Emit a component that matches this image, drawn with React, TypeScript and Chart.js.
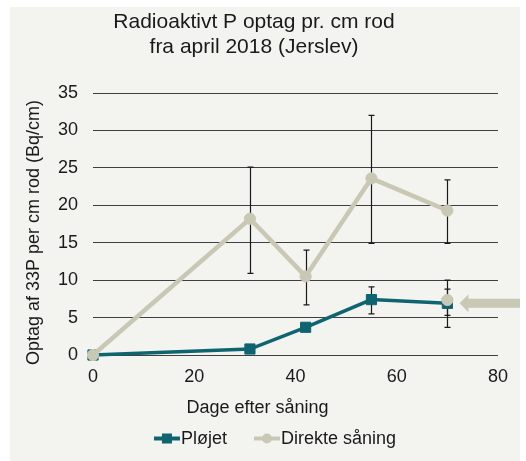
import React, { useEffect, useRef } from "react";
import { Chart, registerables } from "chart.js";

Chart.register(...registerables);

const titleLines = ["Radioaktivt P optag pr. cm rod", "fra april 2018 (Jerslev)"];
const xTitle = "Dage efter såning";
const yTitle = "Optag af 33P per cm rod (Bq/cm)";
const seriesNames = ["Pløjet", "Direkte såning"];

const days = [0, 31, 42, 55, 70];
const ploejet = [0, 0.8, 3.7, 7.4, 6.9];
const ploejetLow = [null, null, null, 5.5, 5.3];
const ploejetHigh = [null, null, null, 9.1, 8.8];
const direkte = [0, 18.2, 10.5, 23.6, 19.3];
const direkteLow = [null, 10.9, 6.7, 14.9, 14.9];
const direkteHigh = [null, 25.1, 14.0, 32.0, 23.4];

// highlighted extra point with arrow
const markedDay = [70];
const markedValue = [7.35];
const markedLow = [3.7];
const markedHigh = [10.0];
const arrowTip = [72.4, 6.9];

const xMin = 0;
const xMax = 80;
const xStep = 20;
const yMin = 0;
const yMax = 35;
const yStep = 5;

const TEAL = "#0e6571";
const GREY = "#c9c8b4";
const BG = "#f3f3ef";
const TEXT = "#1a1a1a";
const FONT = "'Liberation Sans', Arial, sans-serif";

const toPoints = (xs: number[], ys: number[]) => xs.map((x, i) => ({ x, y: ys[i] }));

const errorBarPlugin = {
  id: "errorBars",
  beforeDatasetsDraw(chart: any) {
    const { ctx, scales } = chart;
    const x = scales.x;
    const y = scales.y;
    const groups: [number[], (number | null)[], (number | null)[]][] = [
      [days, ploejetLow, ploejetHigh],
      [days, direkteLow, direkteHigh],
      [markedDay, markedLow, markedHigh],
    ];
    ctx.save();
    ctx.strokeStyle = TEXT;
    ctx.lineWidth = 1.2;
    for (const [xs, lows, highs] of groups) {
      xs.forEach((d, i) => {
        const lo = lows[i];
        const hi = highs[i];
        if (lo == null || hi == null) return;
        const px = Math.round(x.getPixelForValue(d)) + 0.5;
        const top = y.getPixelForValue(hi);
        const bot = y.getPixelForValue(lo);
        ctx.beginPath();
        ctx.moveTo(px, top);
        ctx.lineTo(px, bot);
        ctx.moveTo(px - 3, top);
        ctx.lineTo(px + 3, top);
        ctx.moveTo(px - 3, bot);
        ctx.lineTo(px + 3, bot);
        ctx.stroke();
      });
    }
    ctx.restore();
  },
};

const overlayPlugin = {
  id: "overlay",
  afterDraw(chart: any) {
    const { ctx, scales, width } = chart;
    const x = scales.x;
    const y = scales.y;
    ctx.save();

    // arrow
    const tx = x.getPixelForValue(arrowTip[0]);
    const ty = y.getPixelForValue(arrowTip[1]);
    ctx.fillStyle = GREY;
    ctx.beginPath();
    ctx.moveTo(tx, ty);
    ctx.lineTo(tx + 9, ty - 9);
    ctx.lineTo(tx + 9, ty - 4.5);
    ctx.lineTo(width, ty - 4.5);
    ctx.lineTo(width, ty + 4.5);
    ctx.lineTo(tx + 9, ty + 4.5);
    ctx.lineTo(tx + 9, ty + 9);
    ctx.closePath();
    ctx.fill();

    ctx.fillStyle = TEXT;
    ctx.font = `18px ${FONT}`;
    ctx.textBaseline = "alphabetic";

    // x axis title
    ctx.textAlign = "center";
    ctx.fillText(xTitle, 247.5, 406.3);

    // y axis title
    ctx.save();
    ctx.translate(28.5, 225.5);
    ctx.rotate(-Math.PI / 2);
    ctx.textAlign = "center";
    ctx.fillText(yTitle, 0, 0);
    ctx.restore();

    // legend
    const markerW = 26;
    const gapText = 1;
    const gapItems = 27;
    const colors = [TEAL, GREY];
    const styles = ["rect", "circle"];
    const widths = seriesNames.map((n) => ctx.measureText(n).width);
    const total = widths.reduce((a, w) => a + markerW + gapText + w, 0) + gapItems * (seriesNames.length - 1);
    let cx = 265 - total / 2;
    const ly = 431.5;
    seriesNames.forEach((name, i) => {
      ctx.strokeStyle = colors[i];
      ctx.lineWidth = 4;
      ctx.beginPath();
      ctx.moveTo(cx, ly);
      ctx.lineTo(cx + markerW, ly);
      ctx.stroke();
      ctx.fillStyle = colors[i];
      const mx = cx + markerW / 2;
      if (styles[i] === "rect") {
        ctx.fillRect(mx - 5, ly - 5, 10, 10);
      } else {
        ctx.beginPath();
        ctx.arc(mx, ly, 5, 0, Math.PI * 2);
        ctx.fill();
      }
      ctx.fillStyle = TEXT;
      ctx.textAlign = "left";
      ctx.fillText(name, cx + markerW + gapText, ly + 5.5);
      cx += markerW + gapText + widths[i] + gapItems;
    });

    ctx.restore();
  },
};

export default function App() {
  const canvasRef = useRef<HTMLCanvasElement | null>(null);

  useEffect(() => {
    const canvas = canvasRef.current;
    if (!canvas) return;
    const chart = new Chart(canvas, {
      type: "line",
      data: {
        datasets: [
          {
            label: seriesNames[0],
            data: toPoints(days, ploejet),
            borderColor: TEAL,
            backgroundColor: TEAL,
            borderWidth: 3.5,
            pointStyle: "rect",
            pointRadius: 7.2,
            pointBorderWidth: 1,
            pointBorderColor: TEAL,
            pointBackgroundColor: TEAL,
            tension: 0,
            clip: false as any,
            order: 2,
          },
          {
            label: seriesNames[1],
            data: toPoints(days, direkte),
            borderColor: GREY,
            backgroundColor: GREY,
            borderWidth: 4.5,
            pointStyle: "circle",
            pointRadius: 5.6,
            pointBorderWidth: 1,
            pointBorderColor: GREY,
            pointBackgroundColor: GREY,
            tension: 0,
            clip: false as any,
            order: 1,
          },
          {
            label: "marked",
            data: toPoints(markedDay, markedValue),
            showLine: false,
            borderColor: GREY,
            backgroundColor: GREY,
            pointStyle: "circle",
            pointRadius: 5.6,
            pointBorderWidth: 1,
            pointBorderColor: GREY,
            pointBackgroundColor: GREY,
            clip: false as any,
            order: 0,
          },
        ],
      },
      options: {
        responsive: false,
        animation: false,
        events: [],
        layout: { padding: { top: 0, right: 22, bottom: 0, left: 0 } },
        plugins: {
          legend: { display: false },
          tooltip: { enabled: false },
          title: {
            display: true,
            text: titleLines,
            color: TEXT,
            font: { family: FONT, size: 21, weight: "normal", lineHeight: 24.5 / 21 },
            padding: { top: 3, bottom: 34 },
          },
        },
        scales: {
          x: {
            type: "linear",
            min: xMin,
            max: xMax,
            grid: { display: false, drawTicks: false },
            border: { display: false },
            ticks: { stepSize: xStep, color: TEXT, font: { family: FONT, size: 18 }, padding: 11 },
            afterFit: (s: any) => {
              s.height = 106;
            },
          },
          y: {
            type: "linear",
            min: yMin,
            max: yMax,
            grid: { color: "#3f3f3f", lineWidth: 1, drawTicks: false },
            border: { display: false },
            ticks: { stepSize: yStep, color: TEXT, font: { family: FONT, size: 18 }, padding: 15 },
            afterFit: (s: any) => {
              s.width = 83;
            },
          },
        },
      },
      plugins: [errorBarPlugin, overlayPlugin],
    } as any);
    return () => chart.destroy();
  }, []);

  return (
    <div
      style={{
        position: "fixed",
        left: 10,
        top: 7,
        width: 510,
        height: 454,
        background: BG,
      }}
    >
      <canvas ref={canvasRef} width={510} height={454} style={{ display: "block", width: 510, height: 454 }} />
    </div>
  );
}
